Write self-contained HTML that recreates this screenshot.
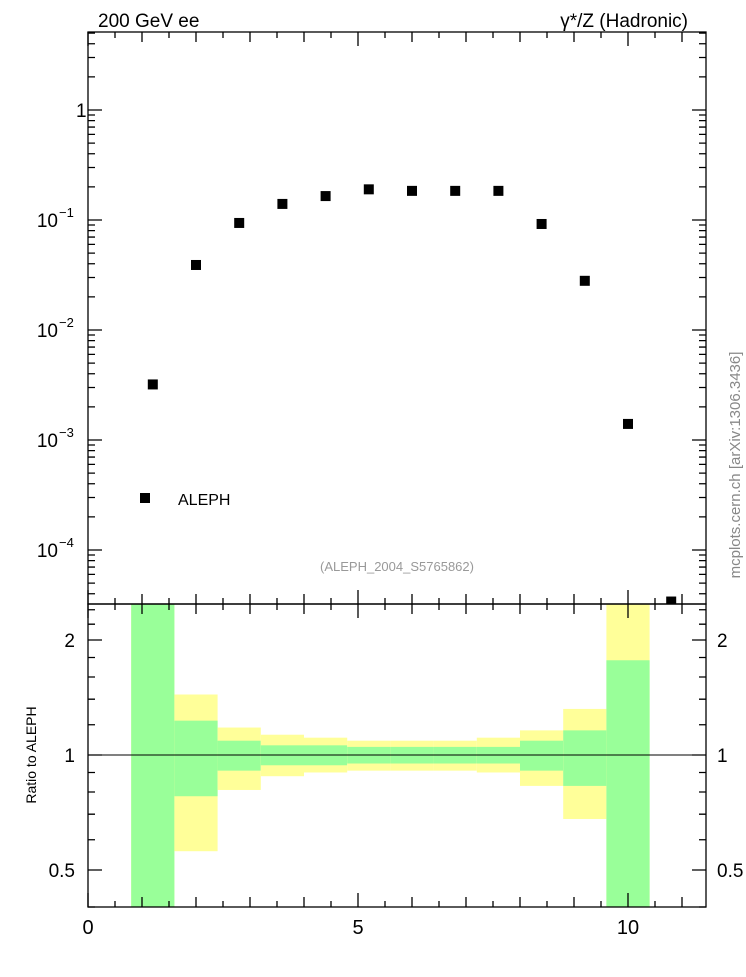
<!DOCTYPE html>
<html><head><meta charset="utf-8"><style>
body{margin:0;background:#fff;}
text{font-family:"Liberation Sans",sans-serif;}
</style></head><body>
<svg id="c" width="746" height="972" xmlns="http://www.w3.org/2000/svg">
<rect width="746" height="972" fill="#fff"/>
<g id="bands"></g>
<g id="marks"></g>
<g id="axes" stroke="#000" stroke-width="1.3" fill="none"></g>
<rect x="88" y="32" width="618" height="572" fill="none" stroke="#000" stroke-width="1.3"/>
<rect x="88" y="604" width="618" height="303" fill="none" stroke="#000" stroke-width="1.3"/>
<line x1="88" y1="755" x2="706" y2="755" stroke="#000" stroke-width="1"/>
<g id="labels"></g>
<text x="98" y="27" font-size="19">200 GeV ee</text>
<text x="688" y="27" font-size="19" text-anchor="end">γ*/Z (Hadronic)</text>
<text x="397" y="571" font-size="13" fill="#999" text-anchor="middle">(ALEPH_2004_S5765862)</text>
<rect x="140" y="493" width="10" height="10" fill="#000"/>
<text x="178" y="505" font-size="16">ALEPH</text>
<text transform="translate(740,465) rotate(-90)" font-size="15" fill="#888" text-anchor="middle">mcplots.cern.ch [arXiv:1306.3436]</text>
<text transform="translate(36,755) rotate(-90)" font-size="14" text-anchor="middle">Ratio to ALEPH</text>
</svg>
<script>
const xCenters=[1.2,2.0,2.8,3.6,4.4,5.2,6.0,6.8,7.6,8.4,9.2,10.0,10.8];
const yValues=[0.0032,0.039,0.094,0.14,0.165,0.19,0.184,0.184,0.184,0.092,0.028,0.0014,0.000034];
const binEdges=[0.8,1.6,2.4,3.2,4.0,4.8,5.6,6.4,7.2,8.0,8.8,9.6,10.4];
const yellowHi=[3,1.44,1.18,1.13,1.11,1.09,1.09,1.09,1.11,1.16,1.32,3];
const yellowLo=[0.3,0.56,0.81,0.88,0.90,0.91,0.91,0.91,0.90,0.83,0.68,0.3];
const greenHi=[3,1.23,1.09,1.06,1.06,1.05,1.05,1.05,1.05,1.09,1.16,1.77];
const greenLo=[0.3,0.78,0.91,0.94,0.94,0.95,0.95,0.95,0.95,0.91,0.83,0.3];
const xTicks=[0,5,10];
const yTicks=[1,0.1,0.01,0.001,0.0001];
const yTickLabels=["1","10","10","10","10"];
const yTickExp=["","−1","−2","−3","−4"];
const rTicks=[2,1,0.5];
const rTickLabels=["2","1","0.5"];
const NS="http://www.w3.org/2000/svg";
const X=v=>88+v*54;
const Y=v=>110-Math.log10(v)*110;
const R=v=>Math.min(907,Math.max(604,755-Math.log2(v)*115));
function mk(t,a,p){const e=document.createElementNS(NS,t);for(const k in a)e.setAttribute(k,a[k]);document.getElementById(p).appendChild(e);return e;}
for(let i=0;i<yellowHi.length;i++){
 const x0=X(binEdges[i]),x1=X(binEdges[i+1]);
 const y=mk('rect',{x:x0,y:R(yellowHi[i]),width:x1-x0,height:R(yellowLo[i])-R(yellowHi[i]),fill:'#ffff99'},'bands');
 
 
 const g=mk('rect',{x:x0,y:R(greenHi[i]),width:x1-x0,height:R(greenLo[i])-R(greenHi[i]),fill:'#99ff99'},'bands');
 
 
}
for(let i=0;i<xCenters.length;i++){
 const cy=Y(yValues[i]);
 if(cy>604)continue;
 const top=Math.max(32,cy-5),bot=Math.min(604,cy+5);
 const m=mk('rect',{x:X(xCenters[i])-5,y:top,width:10,height:bot-top,fill:'#000'},'marks');
 
 
}
let d='';
for(let v=0;v<=11;v+=0.5){const x=X(v);const L=v%5===0?14:(v%1===0?10:6);
 d+=`M${x} 604v-${L}M${x} 32v${L}M${x} 907v-${L}M${x} 604v${L}`;}
for(let e=-5;e<=0;e++)for(let k=1;k<10;k++){const v=k*Math.pow(10,e);const y=Y(v);if(y<32||y>604)continue;const L=k===1?14:7;
 d+=`M88 ${y}h${L}M706 ${y}h-${L}`;}
for(let k=1;k<=10;k++){const v=k*Math.pow(10,-5);}
[0.4,0.5,0.6,0.7,0.8,0.9,1,1.2,1.4,1.6,1.8,2,2.2,2.4].forEach(v=>{const y=R(v);const L=(v===0.5||v===1||v===2)?14:7;d+=`M88 ${y}h${L}M706 ${y}h-${L}`;});
const ax=mk('path',{d:d},'axes');


xTicks.forEach((v,i)=>{const t=mk('text',{x:X(v),y:934,'font-size':20,'text-anchor':'middle'},'labels');t.textContent=v;
 
 });
yTicks.forEach((v,i)=>{const t=mk('text',{x:yTickExp[i]?58:76,y:Y(v)+7,'font-size':19,'text-anchor':yTickExp[i]?'end':'start'},'labels');
 t.textContent=yTickLabels[i];
 
 
 if(yTickExp[i]){const s=mk('text',{x:59,y:Y(v)-3,'font-size':13},'labels');s.textContent=yTickExp[i];
 
 }});
rTicks.forEach((v,i)=>{const y=R(v)+7;
 const a=mk('text',{x:75,y:y,'font-size':19,'text-anchor':'end'},'labels');a.textContent=rTickLabels[i];
 
 
 const b=mk('text',{x:717,y:y,'font-size':19},'labels');b.textContent=rTickLabels[i];
 
 });
</script>
</body></html>
